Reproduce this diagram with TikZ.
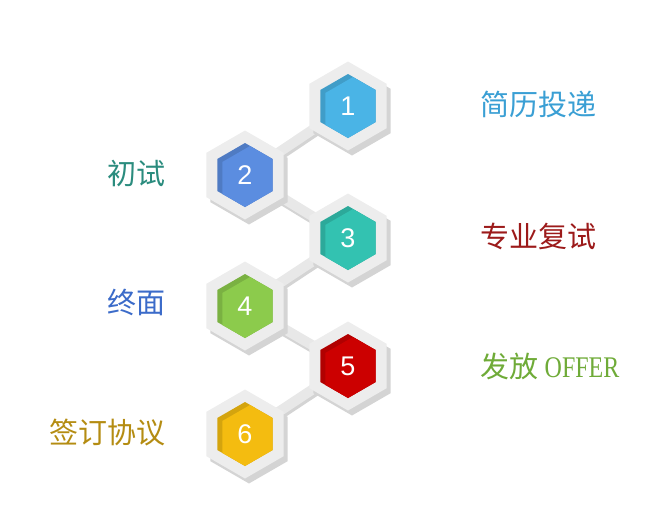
\documentclass[tikz,border=0pt]{standalone}
\usepackage{fontspec}
\setmainfont{Liberation Sans}
\newfontfamily\cjk{Noto Sans CJK SC}
\newfontfamily\offerfont[FakeStretch=0.8]{Liberation Serif}
\usetikzlibrary{shapes.geometric, shadows, backgrounds}

\definecolor{shellgray}{HTML}{EDEDED}
\definecolor{shadowgray}{HTML}{D4D4D4}
\definecolor{bargray}{HTML}{E8E8E8}
\definecolor{skyblue}{HTML}{4AB4E6}
\definecolor{royalblue}{HTML}{5B8DE0}
\definecolor{tealgreen}{HTML}{33C2B1}
\definecolor{leafgreen}{HTML}{8CCB4C}
\definecolor{deepred}{HTML}{CC0000}
\definecolor{goldyellow}{HTML}{F4BC10}
\definecolor{txtsky}{HTML}{3A9FD4}
\definecolor{txtteal}{HTML}{2B8C7E}
\definecolor{txtred}{HTML}{9C1A1A}
\definecolor{txtblue}{HTML}{3B6BC9}
\definecolor{txtgreen}{HTML}{6FAB38}
\definecolor{txtgold}{HTML}{B48C12}

\begin{document}
\begin{tikzpicture}[
      x=1pt, y=-1pt,
      shell/.style={regular polygon, regular polygon sides=6, shape border rotate=30, minimum size=89pt, inner sep=0pt, outer sep=0pt, fill=shellgray,
        drop shadow={shadow xshift=4pt, shadow yshift=-5pt, fill=shadowgray, opacity=1}},
      core/.style={regular polygon, regular polygon sides=6, shape border rotate=30, minimum size=64pt, inner sep=0pt, outer sep=0pt,
        fill=#1!87!black, text=white, font=\fontsize{27}{27}\selectfont,
        path picture={\node[regular polygon, regular polygon sides=6, shape border rotate=30, minimum size=64pt, inner sep=0pt, fill=#1]
          at ([shift={(5pt,-3pt)}]path picture bounding box.center) {};}},
      bar/.style={line width=10pt, draw=bargray},
      barshade/.style={line width=10pt, draw=shadowgray},
      steptext/.style={font=\cjk\fontsize{29}{31}\selectfont, inner sep=0pt}
    ]
    \useasboundingbox (0,0) rectangle (659,507);

    % gray shells
    \node[shell] (s1) at (348,106) {};
    \node[shell] (s2) at (245,175) {};
    \node[shell] (s3) at (348,238) {};
    \node[shell] (s4) at (245,306) {};
    \node[shell] (s5) at (348,366) {};
    \node[shell] (s6) at (245,434) {};

    % connecting bars
    \begin{scope}[on background layer]
      \foreach \a/\b in {s1/s2, s2/s3, s3/s4, s4/s5, s5/s6} {
        \draw[barshade] ([shift={(1pt,-3pt)}]\a.center) -- ([shift={(1pt,-3pt)}]\b.center);
        \draw[bar] (\a.center) -- (\b.center);
      }
    \end{scope}

    % coloured cores
    \node[core=skyblue] (h1) at (s1) {1};
    \node[core=royalblue] (h2) at (s2) {2};
    \node[core=tealgreen] (h3) at (s3) {3};
    \node[core=leafgreen] (h4) at (s4) {4};
    \node[core=deepred] (h5) at (s5) {5};
    \node[core=goldyellow] (h6) at (s6) {6};

    % step names
    \node[steptext, text=txtsky, anchor=west] (t1) at (480,104) {简历投递};
    \node[steptext, text=txtteal, anchor=east] (t2) at (166,173) {初试};
    \node[steptext, text=txtred, anchor=west] (t3) at (480,236) {专业复试};
    \node[steptext, text=txtblue, anchor=east] (t4) at (166,302) {终面};
    \node[steptext, text=txtgreen, anchor=west] (t5) at (480,366) {发放 {\offerfont\fontsize{30}{30}\selectfont OFFER}};
    \node[steptext, text=txtgold, anchor=east] (t6) at (166,433) {签订协议};
  \end{tikzpicture}
\end{document}
